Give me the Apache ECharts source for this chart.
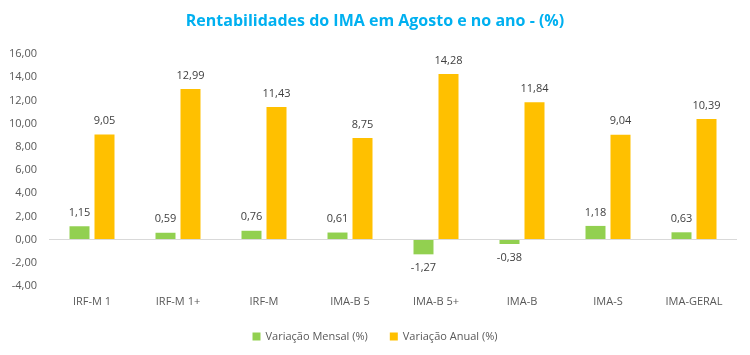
<!DOCTYPE html>
<html><head><meta charset="utf-8">
<script src="https://cdn.jsdelivr.net/npm/echarts@6/dist/echarts.min.js"></script>
<style>html,body{margin:0;padding:0;background:#fff}#c{width:750px;height:355px}</style>
</head><body><div id="c"></div>
<script>
const categories = ["IRF-M 1","IRF-M 1+","IRF-M","IMA-B 5","IMA-B 5+","IMA-B","IMA-S","IMA-GERAL"];
const mensal = [1.15,0.59,0.76,0.61,-1.27,-0.38,1.18,0.63];
const anual = [9.05,12.99,11.43,8.75,14.28,11.84,9.04,10.39];
const seriesNames = ["Variação Mensal (%)","Variação Anual (%)"];
const titleText = "Rentabilidades do IMA em Agosto e no ano - (%)";
const fmt = v => v.toFixed(2).replace('.', ',');
const font = "'Open Sans', sans-serif";
const chart = echarts.init(document.getElementById('c'));
chart.setOption({
  animation:false,
  title:{text:titleText,left:'center',top:8,textStyle:{color:'#00B0F0',fontSize:16,fontWeight:'bold',fontFamily:font}},
  legend:{bottom:8,left:'center',itemWidth:8,itemHeight:8,itemGap:22,icon:'rect',
    textStyle:{color:'#595959',fontSize:11,fontFamily:font}},
  grid:{left:49,right:13,top:54,bottom:69,containLabel:false},
  xAxis:{type:'category',data:categories,
    axisLine:{show:false},axisTick:{show:false},
    axisLabel:{color:'#595959',fontSize:11,fontFamily:font,margin:10,interval:0}},
  yAxis:{type:'value',min:-4,max:16,interval:2,
    axisLabel:{color:'#595959',fontSize:11,fontFamily:font,formatter:v=>fmt(v),margin:12},
    splitLine:{show:false},axisLine:{show:false},axisTick:{show:false}},
  series:[
    {name:seriesNames[0],type:'bar',data:mensal,barWidth:20,barGap:'25%',itemStyle:{color:'#92D050'},
     label:{show:true,position:'outside',formatter:p=>fmt(p.value),color:'#404040',fontSize:11,fontFamily:font,distance:8},
     markLine:{silent:true,symbol:'none',label:{show:false},lineStyle:{color:'#D9D9D9',width:1,type:'solid'},data:[{yAxis:0}]}},
    {name:seriesNames[1],type:'bar',data:anual,barWidth:20,itemStyle:{color:'#FFC000'},
     label:{show:true,position:'top',formatter:p=>fmt(p.value),color:'#404040',fontSize:11,fontFamily:font,distance:8}}
  ]
});
</script></body></html>
